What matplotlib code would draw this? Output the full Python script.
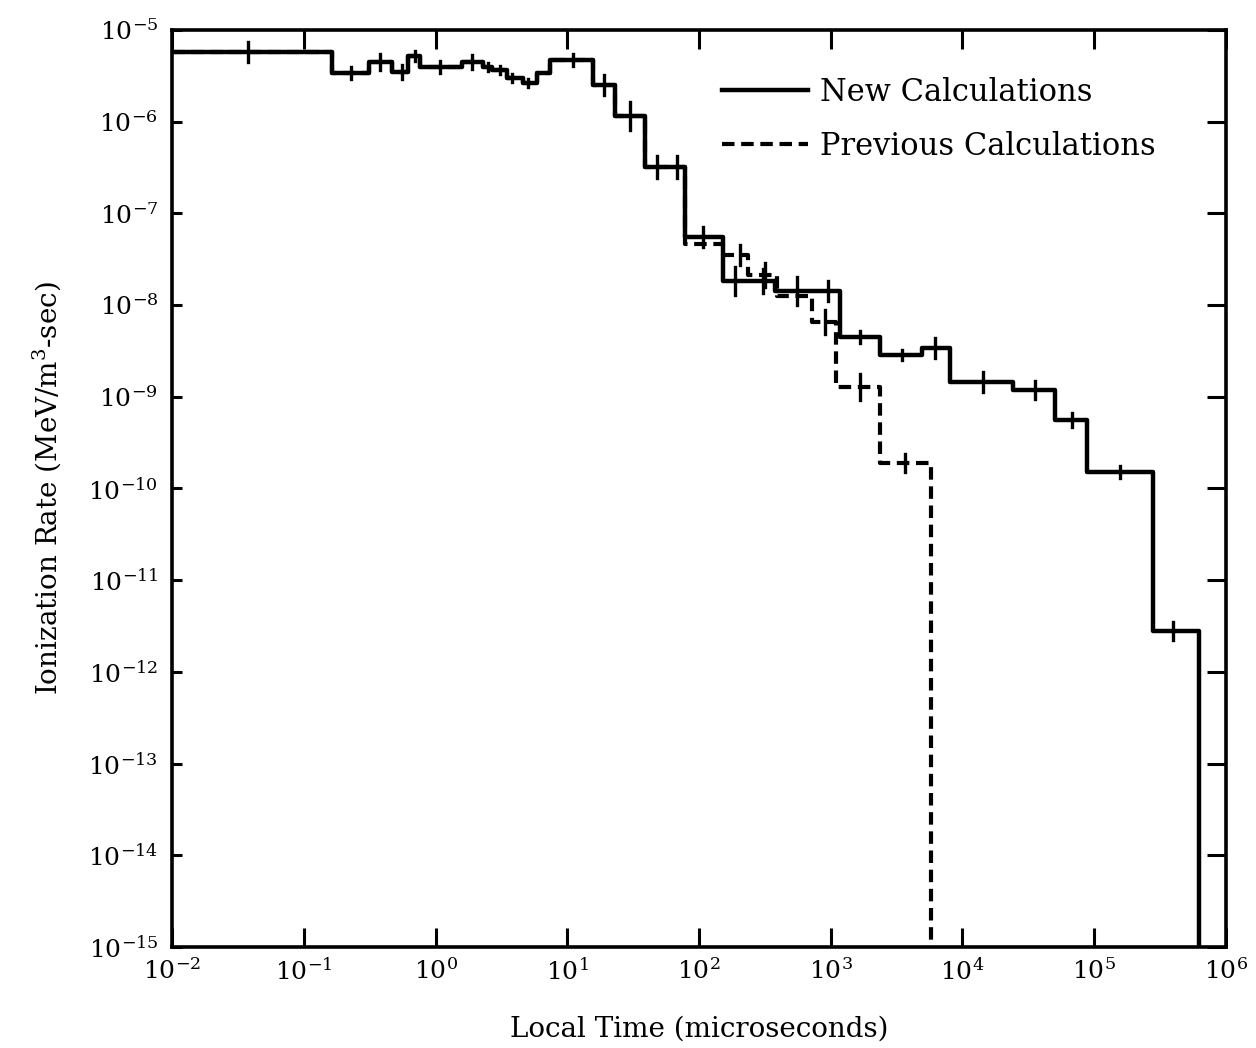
import numpy as np
import matplotlib.pyplot as plt
from matplotlib.ticker import FixedLocator, FuncFormatter, NullLocator

plt.rcParams['font.family'] = ['DejaVu Serif']
plt.rcParams['mathtext.fontset'] = 'dejavuserif'

# bin edges (microseconds) and ionization rate per bin, new calculations
new_edges = [0.01, 0.164, 0.31, 0.47, 0.62, 0.76, 1.6, 2.3, 2.7, 3.5, 4.6, 5.9, 7.4,
             15.7, 23, 39, 78, 152, 378, 1175, 2370, 4930, 8040, 24200, 50300,
             88100, 279000, 620000]
new_rate = [5.75e-6, 3.40e-6, 4.48e-6, 3.48e-6, 5.20e-6, 3.95e-6, 4.48e-6, 3.95e-6,
            3.66e-6, 3.00e-6, 2.64e-6, 3.40e-6, 4.71e-6, 2.51e-6, 1.15e-6, 3.21e-7,
            5.53e-8, 1.83e-8, 1.43e-8, 4.49e-9, 2.86e-9, 3.40e-9, 1.45e-9, 1.19e-9,
            5.58e-10, 1.51e-10, 2.79e-12]

# previous calculations: identical to the new ones below 78 us
prev_edges = new_edges[:17] + [152, 235, 391, 721, 1097, 2370, 5800]
prev_rate = new_rate[:16] + [4.63e-8, 3.51e-8, 2.13e-8, 1.26e-8, 6.55e-9, 1.28e-9, 1.90e-10]

# statistical error bars: time, rate, half-height in decades
new_err_t = [0.038, 0.23, 0.38, 0.56, 0.70, 1.08, 1.9, 2.5, 3.1, 3.8, 5.0, 11,
             19, 30, 48, 68, 107, 187, 306, 555, 953, 1670, 3480, 6180, 14300,
             35500, 67800, 157000, 396000]
new_err_r = [5.75e-6, 3.40e-6, 4.48e-6, 3.48e-6, 5.20e-6, 3.95e-6, 4.48e-6, 3.95e-6,
             3.66e-6, 3.00e-6, 2.64e-6, 4.71e-6, 2.51e-6, 1.15e-6, 3.21e-7, 3.21e-7,
             5.53e-8, 1.83e-8, 1.83e-8, 1.43e-8, 1.43e-8, 4.49e-9, 2.86e-9, 3.40e-9,
             1.45e-9, 1.19e-9, 5.58e-10, 1.51e-10, 2.79e-12]
new_err_d = [0.11, 0.065, 0.09, 0.075, 0.055, 0.065, 0.08, 0.045, 0.045, 0.045, 0.045,
             0.065, 0.11, 0.15, 0.12, 0.12, 0.11, 0.15, 0.13, 0.15, 0.11, 0.07, 0.055,
             0.11, 0.11, 0.10, 0.08, 0.065, 0.10]

prev_err_t = [205, 317, 904, 1670, 3660]
prev_err_r = [3.51e-8, 2.13e-8, 6.55e-9, 1.28e-9, 1.90e-10]
prev_err_d = [0.11, 0.13, 0.13, 0.14, 0.10]

floor = 1e-16

fig = plt.figure(figsize=(12.56, 10.48), dpi=100)
ax = fig.add_axes([0.137, 0.0964, 0.839, 0.8750])

ax.step(prev_edges, prev_rate + [floor], where='post', color='black', lw=3,
        ls=(0, (3.0, 1.6)), zorder=2, label='Previous Calculations')
ax.step(new_edges, new_rate + [floor], where='post', color='black', lw=3.2,
        zorder=3, label='New Calculations')

for t, r, d in zip(new_err_t, new_err_r, new_err_d):
    ax.plot([t, t], [r * 10 ** -d, r * 10 ** d], color='black', lw=2.4, zorder=4)
for t, r, d in zip(prev_err_t, prev_err_r, prev_err_d):
    ax.plot([t, t], [r * 10 ** -d, r * 10 ** d], color='black', lw=2.4, zorder=4)

ax.set_xscale('log')
ax.set_yscale('log')
ax.set_xlim(1e-2, 1e6)
ax.set_ylim(1e-15, 1e-5)

ax.xaxis.set_major_locator(FixedLocator([10.0 ** k for k in range(-2, 7)]))
ax.yaxis.set_major_locator(FixedLocator([10.0 ** k for k in range(-15, -4)]))
ax.xaxis.set_minor_locator(NullLocator())
ax.yaxis.set_minor_locator(NullLocator())
fmt = FuncFormatter(lambda v, pos: r'$10^{%d}$' % int(round(np.log10(v))))
ax.xaxis.set_major_formatter(fmt)
ax.yaxis.set_major_formatter(fmt)

ax.tick_params(axis='x', which='major', direction='in', length=14, width=2.2,
               top=True, labelsize=18, pad=8)
ax.tick_params(axis='y', which='major', direction='in', length=14, width=2.2,
               right=True, labelsize=18, pad=10)
# left-hand ticks are short, the other three sides long
for tk in ax.yaxis.get_major_ticks():
    tk.tick1line.set_markersize(7)
for s in ax.spines.values():
    s.set_linewidth(2.6)

ax.set_xlabel('Local Time (microseconds)', fontsize=20, labelpad=22)
ax.set_ylabel(r'Ionization Rate (MeV/m$^3$-sec)', fontsize=20, labelpad=18)

handles, labels = ax.get_legend_handles_labels()
ax.legend(handles[::-1], labels[::-1], loc='upper left', bbox_to_anchor=(0.522, 0.949),
          frameon=False, fontsize=22, handlelength=2.8, handletextpad=0.4,
          labelspacing=0.75, borderpad=0, borderaxespad=0)

fig.savefig('out.png', dpi=100, facecolor='white')
